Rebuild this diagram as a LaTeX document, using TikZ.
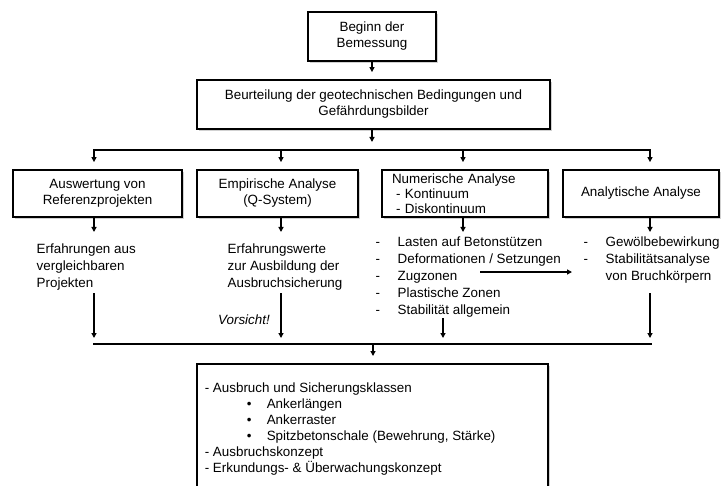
\documentclass[tikz,border=0pt]{standalone}
\usepackage{fontspec}
\setmainfont{Liberation Sans}
\usetikzlibrary{arrows.meta,shadows}

\begin{document}
\begin{tikzpicture}[x=1pt,y=-1pt,line width=1.4pt,
    font=\fontsize{13.4}{16}\selectfont,
    box/.style={draw,line width=1.8pt,fill=white,align=center,inner sep=0pt,
      drop shadow={shadow xshift=2pt,shadow yshift=-2pt,opacity=0.3,fill=black!60}},
    txt/.style={anchor=north west,align=left,inner sep=0pt},
    pfeil/.style={-{Triangle[length=5pt,width=5pt]}}]
    \def\dash{\makebox[22pt][l]{-}}
    \def\bul{\hspace*{42pt}\makebox[20pt][l]{\textbullet}}
    \useasboundingbox (0,0) rectangle (722,486);
    % Kopf
    \node[box,minimum width=128pt,minimum height=49pt] (beginn) at (372,36.5) {Beginn der\\Bemessung};
    \node[box,minimum width=353pt,minimum height=49pt] (beurt) at (373.5,104.5)
      {Beurteilung der geotechnischen Bedingungen und\\Gef\"ahrdungsbilder};
    % Verfahren
    \node[box,minimum width=169pt,minimum height=47pt] (ausw) at (97.5,193.5) {Auswertung von\\Referenzprojekten};
    \node[box,minimum width=161pt,minimum height=47pt] (empi) at (277.5,193.5) {Empirische Analyse\\(Q-System)};
    \node[box,minimum width=166pt,minimum height=47pt,align=left,text width=146pt,
      font=\fontsize{13.4}{15}\selectfont] (nume) at (465,193.5)
      {Numerische Analyse\\\hspace*{4pt}- Kontinuum\\\hspace*{4pt}- Diskontinuum};
    \node[box,minimum width=156pt,minimum height=47pt] (anal) at (641,193.5) {Analytische Analyse};
    % Ergebnisse
    \node[txt,font=\fontsize{13.4}{17}\selectfont] (erf) at (36,243) {Erfahrungen aus\\vergleichbaren\\Projekten};
    \node[txt,font=\fontsize{13.4}{17}\selectfont] (werte) at (227,243) {Erfahrungswerte\\zur Ausbildung der\\Ausbruchsicherung};
    \node[txt,font=\fontsize{13.4}{17}\selectfont] (lasten) at (375,236)
      {\dash Lasten auf Betonst\"utzen\\\dash Deformationen / Setzungen\\\dash Zugzonen\\
       \dash Plastische Zonen\\\dash Stabilit\"at allgemein};
    \node[txt,font=\fontsize{13.4}{17}\selectfont] (gewoelbe) at (583,236)
      {\dash Gew\"olbebewirkung\\\dash Stabilit\"atsanalyse\\\hspace*{22pt}von Bruchk\"orpern};
    \node (vorsicht) at (244,320) {\itshape Vorsicht!};
    % Massnahmen
    \node[box,minimum width=351pt,minimum height=150pt,anchor=north] (mass) at (372.5,363) {};
    \node[txt] (klassen) at ([xshift=8pt,yshift=-19pt]mass.north west)
      {- Ausbruch und Sicherungsklassen\\\bul Ankerl\"angen\\\bul Ankerraster\\
       \bul Spitzbetonschale (Bewehrung, St\"arke)\\- Ausbruchskonzept\\
       - Erkundungs- \& \"Uberwachungskonzept};
    % Pfeile
    \coordinate (oben) at (372,150);
    \coordinate (unten) at (373,344);
    \draw[pfeil,shorten >=7pt] (beginn.south) -- (beginn.south |- beurt.north);
    \draw[pfeil,shorten >=8pt] (beurt.south -| oben) -- (oben);
    \draw (93,150) -- (651,150);
    \draw (93,344) -- (652,344);
    \foreach \n/\x in {ausw/94,empi/281,nume/463,anal/650}{
      \draw[pfeil,shorten >=7pt] (\x,150) -- (\n.north -| \x,0);
      \draw[pfeil] (\n.south -| \x,0) -- (\x,232);
    }
    \foreach \x/\y in {94/293,281/293,443/318,650/293}
      \draw[pfeil,shorten >=6pt] (\x,\y) -- (\x,344);
    \draw[pfeil] (480,272) -- (572,272);
    \draw[pfeil,shorten >=7pt] (unten) -- (mass.north -| unten);
\end{tikzpicture}
\end{document}
